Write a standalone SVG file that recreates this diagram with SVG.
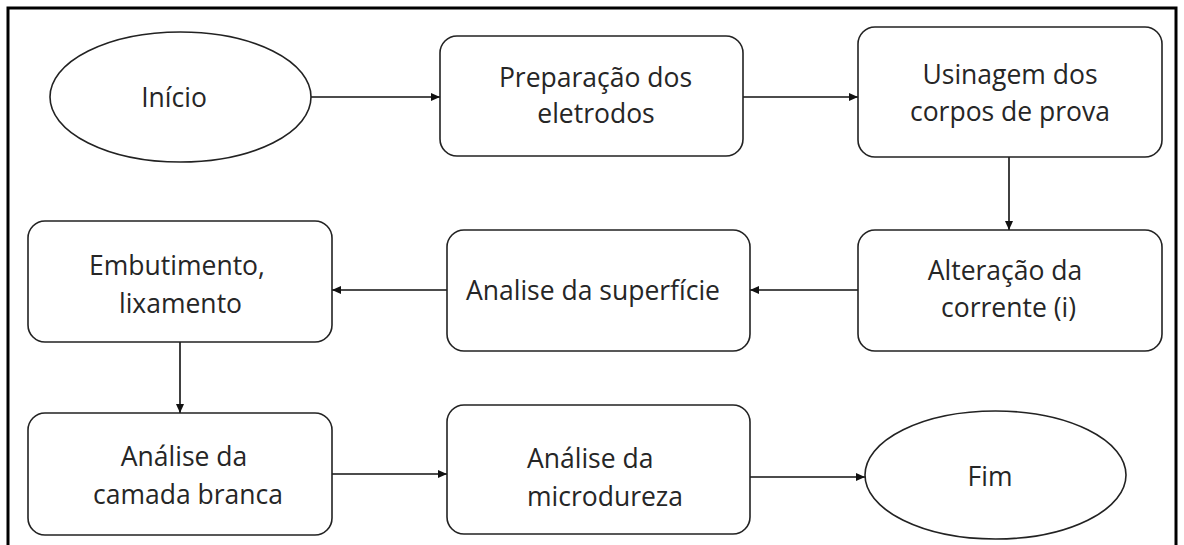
<svg xmlns="http://www.w3.org/2000/svg" width="1184" height="545" viewBox="0 0 1184 545">
<defs>
<marker id="ah" markerUnits="userSpaceOnUse" markerWidth="10" markerHeight="8" refX="9" refY="4" orient="auto">
<path d="M0,0 L9,4 L0,8 z" fill="#111"/>
</marker>
<style>
.n{fill:#fff;stroke:#222;stroke-width:1.6}
.t{font-family:"Open Sans","Liberation Sans",sans-serif;font-size:26.5px;fill:#262626;text-anchor:middle}
.s{text-anchor:start}
.c{fill:none;stroke:#111;stroke-width:1.6;marker-end:url(#ah)}
</style>
</defs>
<rect x="0" y="0" width="1184" height="545" fill="#fff"/>
<rect x="8" y="8" width="1168" height="580" fill="none" stroke="#000" stroke-width="3"/>
<g id="connectors">
<line class="c" x1="311" y1="97" x2="440" y2="97"/>
<line class="c" x1="743" y1="97" x2="858" y2="97"/>
<line class="c" x1="1009" y1="157" x2="1009" y2="230"/>
<line class="c" x1="858" y1="290" x2="750" y2="290"/>
<line class="c" x1="447" y1="290" x2="332" y2="290"/>
<line class="c" x1="180" y1="342" x2="180" y2="413"/>
<line class="c" x1="332" y1="474" x2="447" y2="474"/>
<line class="c" x1="750" y1="477" x2="865" y2="477"/>
</g>
<g id="inicio">
<ellipse class="n" cx="180.5" cy="97" rx="130.5" ry="65"/>
<text class="t" x="174" y="107">Início</text>
</g>
<g id="preparacao">
<rect class="n" x="440" y="36" width="303" height="120" rx="17"/>
<text class="t" x="595.5" y="86.7">Preparação dos</text>
<text class="t" x="596" y="123.3">eletrodos</text>
</g>
<g id="usinagem">
<rect class="n" x="858" y="27" width="304" height="130" rx="17"/>
<text class="t" x="1010" y="84">Usinagem dos</text>
<text class="t" x="1010" y="121">corpos de prova</text>
</g>
<g id="alteracao">
<rect class="n" x="858" y="230" width="304" height="121" rx="17"/>
<text class="t" x="1005" y="279.5">Alteração da</text>
<text class="t" x="1008.5" y="317">corrente (i)</text>
</g>
<g id="analise-superficie">
<rect class="n" x="447" y="230" width="303" height="121" rx="17"/>
<text class="t" x="593" y="299.5">Analise da superfície</text>
</g>
<g id="embutimento">
<rect class="n" x="28" y="221" width="304" height="121" rx="17"/>
<text class="t" x="177" y="275">Embutimento,</text>
<text class="t" x="180.5" y="312.7">lixamento</text>
</g>
<g id="camada-branca">
<rect class="n" x="28" y="413" width="304" height="122" rx="17"/>
<text class="t" x="184" y="466">Análise da</text>
<text class="t" x="188" y="504">camada branca</text>
</g>
<g id="microdureza">
<rect class="n" x="447" y="405" width="303" height="129" rx="17"/>
<text class="t s" x="527" y="468">Análise da</text>
<text class="t s" x="527" y="506">microdureza</text>
</g>
<g id="fim">
<ellipse class="n" cx="995.5" cy="475" rx="130.5" ry="64"/>
<text class="t" x="990" y="486">Fim</text>
</g>
</svg>
